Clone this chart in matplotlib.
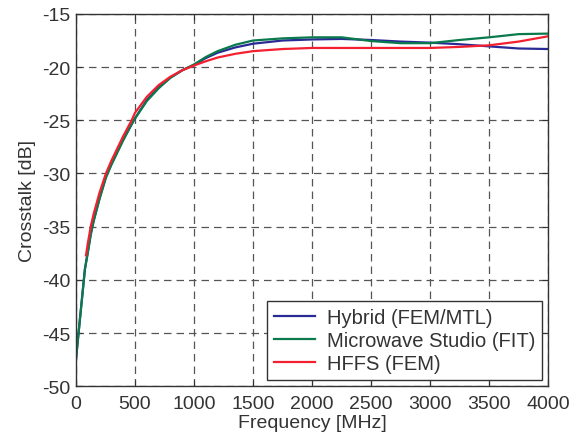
import numpy as np
from matplotlib import pyplot as plt

plt.rcParams['font.family'] = ['Liberation Sans', 'DejaVu Sans']
plt.rcParams['axes.unicode_minus'] = False

# frequency points [MHz] and crosstalk [dB]
f_hyb = [0, 40, 76, 100, 125, 150, 200, 254, 300, 400, 490, 600, 700, 800, 900,
         1000, 1100, 1200, 1350, 1500, 1750, 2000, 2250, 2500, 2750, 3000, 3250,
         3500, 3750, 4000]
xt_hyb = [-47.5, -43.0, -39.0, -37.4, -35.7, -34.4, -32.3, -30.3, -29.1, -26.8, -25.0,
          -23.1, -21.9, -21.0, -20.3, -19.8, -19.15, -18.65, -18.15, -17.8, -17.5,
          -17.4, -17.35, -17.45, -17.6, -17.7, -17.85, -18.05, -18.25, -18.3]

f_fit = [0, 40, 76, 100, 125, 150, 200, 254, 300, 400, 490, 600, 700, 800, 900,
         1000, 1100, 1200, 1350, 1500, 1750, 2000, 2250, 2500, 2750, 3000, 3250,
         3500, 3750, 4000]
xt_fit = [-47.5, -43.0, -39.0, -37.5, -35.8, -34.5, -32.4, -30.4, -29.2, -26.9, -25.0,
          -23.2, -22.0, -21.0, -20.3, -19.75, -19.05, -18.5, -17.9, -17.5, -17.3,
          -17.2, -17.2, -17.55, -17.75, -17.75, -17.45, -17.2, -16.9, -16.85]

f_hfss = [85, 100, 125, 150, 200, 254, 300, 400, 472, 500, 600, 700, 800, 900,
          1000, 1100, 1200, 1350, 1500, 1750, 2000, 2500, 3000, 3250, 3500, 3750, 4000]
xt_hfss = [-37.7, -36.6, -35.0, -33.8, -31.8, -30.0, -28.8, -26.5, -25.0, -24.3,
           -22.8, -21.7, -20.9, -20.3, -19.85, -19.45, -19.1, -18.75, -18.5, -18.3,
           -18.2, -18.2, -18.2, -18.1, -17.95, -17.6, -17.1]

x_ticks = np.arange(0, 4001, 500)
y_ticks = np.arange(-50, -14, 5)

fig = plt.figure(figsize=(5.71, 4.39), dpi=100)
ax = fig.add_axes([0.133, 0.118, 0.827, 0.848])

ax.plot(f_hyb, xt_hyb, color='#2a2a96', lw=1.6, label='Hybrid (FEM/MTL)')
ax.plot(f_fit, xt_fit, color='#0a7a4c', lw=1.6, label='Microwave Studio (FIT)')
ax.plot(f_hfss, xt_hfss, color='#f42030', lw=1.6, label='HFFS (FEM)')

ax.set_xlim(0, 4000)
ax.set_ylim(-50, -15)
ax.set_xticks(x_ticks)
ax.set_yticks(y_ticks)
ax.tick_params(direction='in', top=True, right=True, labelsize=14, length=4,
               color='#333333', labelcolor='#333333')
ax.tick_params(axis='x', pad=6)
ax.tick_params(axis='y', pad=4)
ax.grid(True, color='#555555', linestyle=(0, (6, 4)), lw=0.9)
for s in ax.spines.values():
    s.set_color('#333333')
    s.set_linewidth(1.0)

ax.set_xlabel('Frequency [MHz]', fontsize=14, color='#333333', labelpad=2)
ax.set_ylabel('Crosstalk [dB]', fontsize=14, color='#333333', labelpad=4)

leg = ax.legend(loc='lower right', fontsize=14.5, fancybox=False, framealpha=1,
                edgecolor='#333333', borderaxespad=0.3, handlelength=2.0,
                handletextpad=0.6, labelspacing=0.2, borderpad=0.35)
leg.get_frame().set_linewidth(1.0)
for t in leg.get_texts():
    t.set_color('#333333')

plt.savefig('out.png')
